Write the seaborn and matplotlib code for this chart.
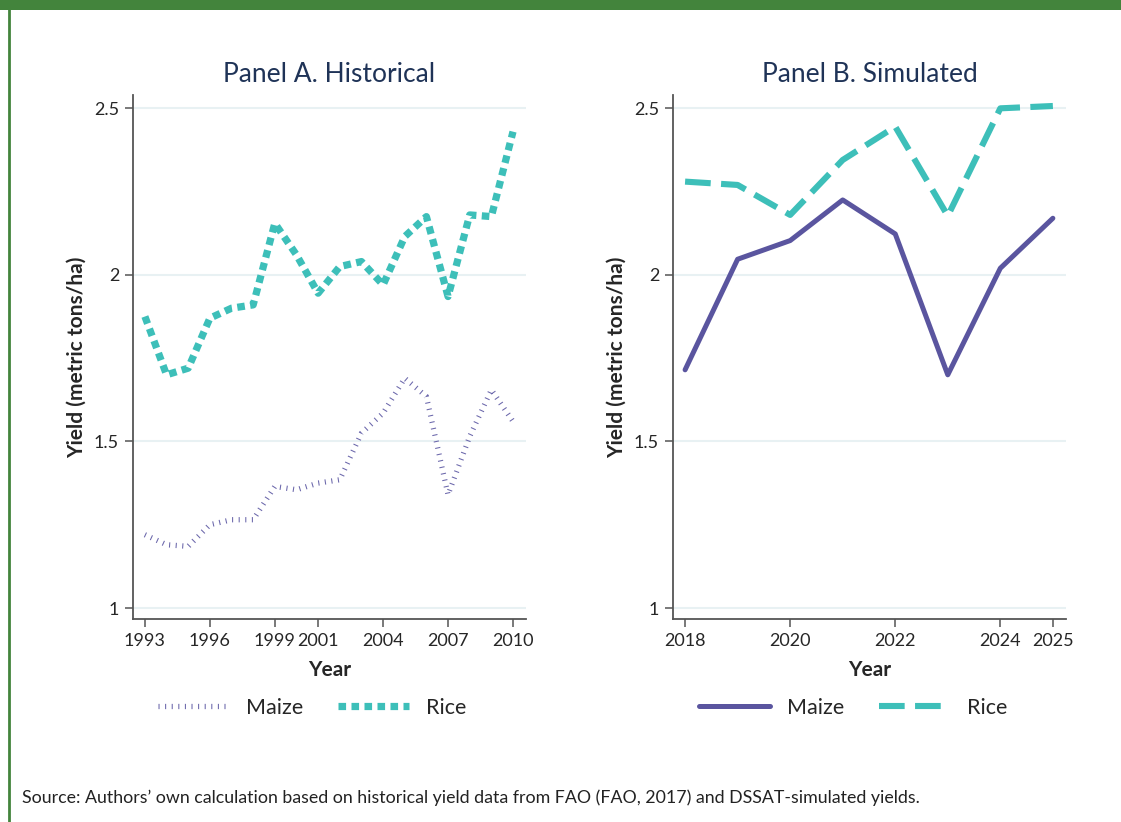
import matplotlib
matplotlib.use("Agg")
import matplotlib.pyplot as plt
from matplotlib.patches import Rectangle
from matplotlib.lines import Line2D
import seaborn as sns
import pandas as pd

# Data
hist_years = list(range(1993, 2011))
hist_maize = [1.22, 1.19, 1.185, 1.25, 1.265, 1.265, 1.365, 1.355, 1.375, 1.385,
              1.525, 1.585, 1.69, 1.635, 1.34, 1.515, 1.655, 1.56]
hist_rice = [1.875, 1.70, 1.72, 1.87, 1.90, 1.91, 2.155, 2.06, 1.945, 2.025,
             2.04, 1.97, 2.115, 2.175, 1.935, 2.18, 2.175, 2.43]
hist_ticks = [1993, 1996, 1999, 2001, 2004, 2007, 2010]

sim_years = list(range(2018, 2026))
sim_maize = [1.715, 2.047, 2.103, 2.225, 2.123, 1.70, 2.02, 2.17]
sim_rice = [2.28, 2.27, 2.18, 2.345, 2.445, 2.177, 2.50, 2.507]
sim_ticks = [2018, 2020, 2022, 2024, 2025]

y_ticks = [1, 1.5, 2, 2.5]
y_labels = ["1", "1.5", "2", "2.5"]

PURPLE = "#5a559f"
TEAL = "#3dbfb9"
GREEN = "#43843c"
NAVY = "#1f3357"

sns.set_style("white")
plt.rcParams["font.family"] = ["Lato", "DejaVu Sans"]

fig = plt.figure(figsize=(11.21, 8.22), dpi=100)

# frame decoration
fig.add_artist(Rectangle((0, 1 - 10 / 822), 1, 10 / 822, transform=fig.transFigure,
                         color=GREEN, lw=0))
fig.add_artist(Line2D([9.3 / 1121, 9.3 / 1121], [0, 1], transform=fig.transFigure,
                      color=GREEN, lw=2))

ax1 = fig.add_axes([133 / 1121, 1 - 619 / 822, 393 / 1121, 524 / 822])
ax2 = fig.add_axes([673 / 1121, 1 - 619 / 822, 393 / 1121, 524 / 822])

df_hist = pd.DataFrame({"Year": hist_years, "Maize": hist_maize, "Rice": hist_rice})
df_sim = pd.DataFrame({"Year": sim_years, "Maize": sim_maize, "Rice": sim_rice})

# Panel A
sns.lineplot(data=df_hist, x="Year", y="Maize", ax=ax1, color="#6b67ab", linewidth=3.8,
             linestyle=(0, (0.2, 1.05)), label="Maize", legend=False)
sns.lineplot(data=df_hist, x="Year", y="Rice", ax=ax1, color=TEAL, linewidth=5.2,
             linestyle=(0, (1.05, 0.75)), label="Rice", legend=False)

# Panel B
sns.lineplot(data=df_sim, x="Year", y="Maize", ax=ax2, color=PURPLE, linewidth=3.6,
             label="Maize", legend=False)
sns.lineplot(data=df_sim, x="Year", y="Rice", ax=ax2, color=TEAL, linewidth=4.4,
             linestyle=(0, (4.2, 1.7)), label="Rice", legend=False)

legend_x = [312 / 1121, 853 / 1121]

for i, (ax, xt, xlim, title) in enumerate([
    (ax1, hist_ticks, (1992.45, 2010.6), "Panel A. Historical"),
    (ax2, sim_ticks, (2017.77, 2025.25), "Panel B. Simulated"),
]):
    ax.set_xlim(*xlim)
    ax.set_ylim(0.967, 2.54)
    ax.set_xticks(xt)
    ax.set_xticklabels([str(t) for t in xt], fontsize=13)
    ax.set_yticks(y_ticks)
    ax.set_yticklabels(y_labels, fontsize=13)
    ax.grid(axis="y", color="#e8f1f3", linewidth=1.5)
    ax.grid(axis="x", visible=False)
    ax.set_axisbelow(True)
    for side in ["top", "right"]:
        ax.spines[side].set_visible(False)
    for side in ["left", "bottom"]:
        ax.spines[side].set_color("#555555")
        ax.spines[side].set_linewidth(1.3)
    ax.tick_params(axis="both", direction="out", length=6, width=1.1, color="#555555",
                   pad=4, left=True, bottom=True)
    ax.set_xlabel("Year", fontsize=15, fontweight="bold", labelpad=8)
    ax.set_ylabel("Yield (metric tons/ha)", fontsize=15, fontweight="bold", labelpad=5)
    ax.set_title(title, fontsize=19, color=NAVY, pad=9)
    handles, labels = ax.get_legend_handles_labels()
    ax.legend(handles, labels, ncol=2, frameon=False, fontsize=15.5,
              handlelength=3.3, handletextpad=0.8, columnspacing=1.6,
              loc="center", bbox_transform=fig.transFigure,
              bbox_to_anchor=(legend_x[i], 0.139))

fig.text(22 / 1121, 1 - 798 / 822,
         "Source: Authors\u2019 own calculation based on historical yield data from FAO (FAO, 2017) and DSSAT-simulated yields.",
         fontsize=12.8, color="#222222", va="center", ha="left")

fig.savefig("out.png", dpi=100)
